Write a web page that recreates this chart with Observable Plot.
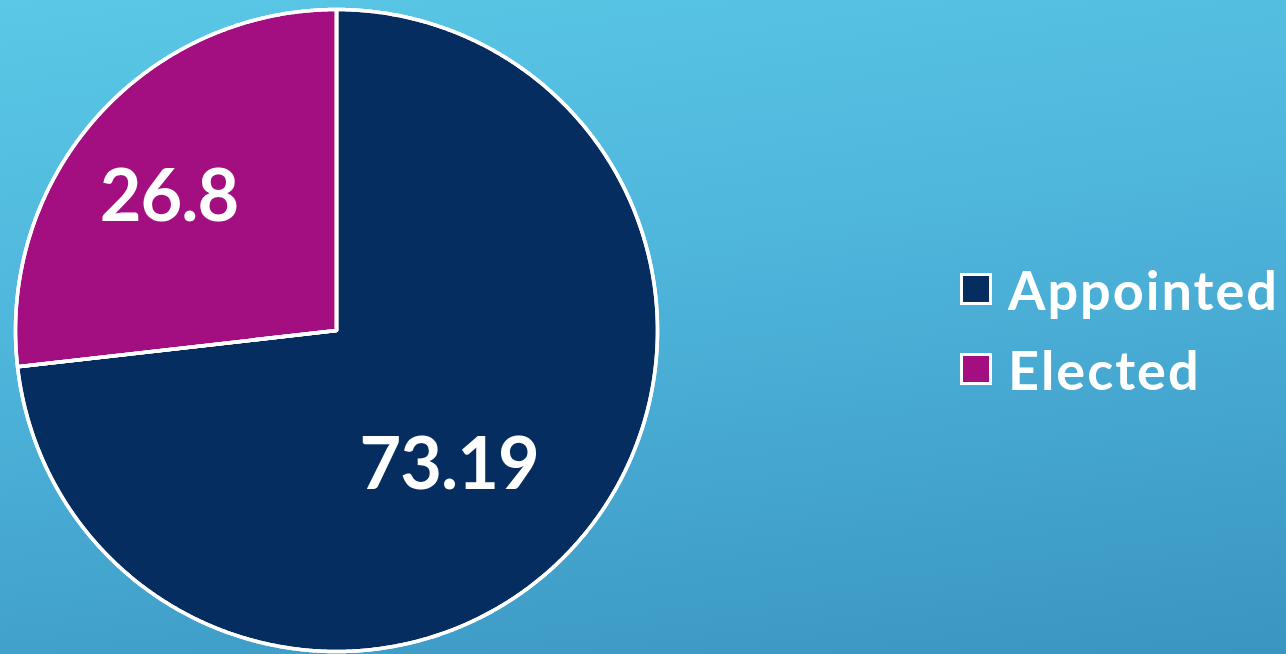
<!DOCTYPE html>
<html>
<head>
<meta charset="utf-8">
<script src="https://cdn.jsdelivr.net/npm/d3@7"></script>
<script src="https://cdn.jsdelivr.net/npm/@observablehq/plot@0.6"></script>
<style>
  html, body { margin: 0; padding: 0; width: 1286px; height: 654px; overflow: hidden; }
  body { background: linear-gradient(172deg, #5ac8e6 0%, #4fb6dc 40%, #3a95c1 100%); font-family: Lato, "Open Sans", sans-serif; position: relative; }
  #chart { position: absolute; left: 0; top: 0; }
  #legend { position: absolute; left: 960px; top: 249px; }
  .item { display: flex; align-items: center; height: 80px; color: #fff; font-weight: 700; font-size: 54px; letter-spacing: 2px; }
  .sw { width: 26px; height: 26px; border: 3px solid #fff; margin-right: 16px; }
</style>
</head>
<body>
<div id="chart"></div>
<div id="legend"></div>
<script>
const categories = ["Appointed", "Elected"];
const values = [73.19, 26.8];
const labels = ["73.19", "26.8"];
const colors = ["#062d5f", "#a30f80"];

const W = 1286, H = 654;
const cx = 336, cy = 330, R = 321;

const pie = d3.pie().sort(null).value(d => d.value)(categories.map((c, i) => ({cat: c, value: values[i], label: labels[i]})));

// build slice polygons from the pie angles
const pts = [];
for (const s of pie) {
  const n = Math.max(2, Math.ceil((s.endAngle - s.startAngle) / 0.005));
  pts.push({cat: s.data.cat, x: cx, y: cy});
  for (let k = 0; k <= n; k++) {
    const a = s.startAngle + (s.endAngle - s.startAngle) * k / n;
    pts.push({cat: s.data.cat, x: cx + R * Math.sin(a), y: cy - R * Math.cos(a)});
  }
  pts.push({cat: s.data.cat, x: cx, y: cy});
}

// label positions near each slice's mid angle
const labelFrac = {"Appointed": 0.55, "Elected": 0.665};
const labelShift = {"Appointed": 0.15, "Elected": -0.06};
const lab = pie.map(s => {
  const a = (s.startAngle + s.endAngle) / 2 + labelShift[s.data.cat];
  const r = R * labelFrac[s.data.cat];
  return {cat: s.data.cat, label: s.data.label, x: cx + r * Math.sin(a), y: cy - r * Math.cos(a)};
});

const chart = Plot.plot({
  width: W, height: H,
  margin: 0,
  style: {background: "transparent", overflow: "visible"},
  x: {domain: [0, W], range: [0, W], axis: null},
  y: {domain: [0, H], range: [0, H], axis: null},
  color: {domain: categories, range: colors},
  marks: [
    Plot.line(pts, {x: "x", y: "y", z: "cat", fill: "cat", stroke: "white", strokeWidth: 3.5, curve: "linear"}),
    Plot.line(pts, {x: "x", y: "y", z: "cat", fill: "none", stroke: "white", strokeWidth: 3.5}),
    Plot.text(lab, {x: "x", y: "y", text: "label", fill: "white", fontSize: 72, fontWeight: 700, fontFamily: "Lato, sans-serif"})
  ]
});
chart.querySelectorAll("text").forEach(t => t.style.letterSpacing = "-1px");
document.getElementById("chart").appendChild(chart);

const legend = document.getElementById("legend");
categories.forEach((c, i) => {
  const it = document.createElement("div");
  it.className = "item";
  const sw = document.createElement("div");
  sw.className = "sw";
  sw.style.background = colors[i];
  const t = document.createElement("span");
  t.textContent = c;
  it.appendChild(sw); it.appendChild(t);
  legend.appendChild(it);
});
</script>
</body>
</html>
